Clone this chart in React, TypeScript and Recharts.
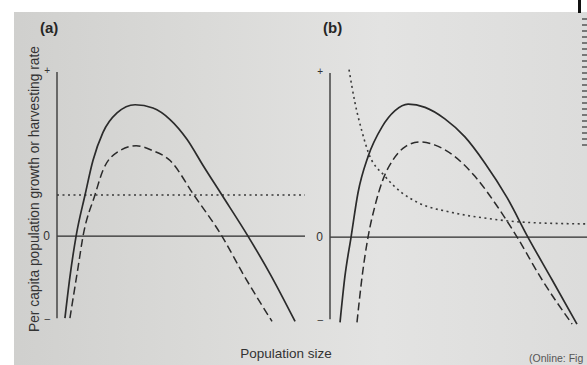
import { ComposedChart, Line, XAxis, YAxis, ReferenceLine } from "recharts";

type Pt = { x: number; y: number };

// y axis only has three marks: "+", "0" and "-"
const yTicks = [-0.5, 0, 1];
const tickText = (v: number) => (v > 0 ? "+" : v < 0 ? "–" : "0");

// (a) constant harvest
const growthA: Pt[] = [
  { x: 0.32, y: -0.5 }, { x: 0.52, y: -0.25 }, { x: 0.77, y: 0 }, { x: 1.13, y: 0.25 },
  { x: 1.45, y: 0.46 }, { x: 1.85, y: 0.63 }, { x: 2.42, y: 0.75 }, { x: 3.15, y: 0.8 },
  { x: 3.87, y: 0.78 }, { x: 4.56, y: 0.71 }, { x: 5.24, y: 0.59 }, { x: 5.89, y: 0.43 },
  { x: 6.65, y: 0.25 }, { x: 7.7, y: 0 }, { x: 8.59, y: -0.23 }, { x: 9.6, y: -0.52 },
];
const netGrowthA: Pt[] = [
  { x: 0.52, y: -0.5 }, { x: 0.85, y: -0.19 }, { x: 1.05, y: 0 }, { x: 1.53, y: 0.25 },
  { x: 1.85, y: 0.4 }, { x: 2.42, y: 0.51 }, { x: 3.19, y: 0.55 }, { x: 3.87, y: 0.52 },
  { x: 4.56, y: 0.46 }, { x: 5.52, y: 0.25 }, { x: 6.65, y: 0 },
  { x: 7.5, y: -0.23 }, { x: 8.67, y: -0.52 },
];
const harvestA: Pt[] = [
  { x: 0, y: 0.25 }, { x: 10, y: 0.25 },
];

// (b) harvest falling with population size
const growthB: Pt[] = [
  { x: 0.39, y: -0.52 }, { x: 0.58, y: -0.24 }, { x: 0.82, y: 0 }, { x: 1.09, y: 0.27 },
  { x: 1.48, y: 0.49 }, { x: 2.02, y: 0.67 }, { x: 2.53, y: 0.77 }, { x: 3.04, y: 0.81 },
  { x: 3.7, y: 0.79 }, { x: 4.47, y: 0.72 }, { x: 5.25, y: 0.61 }, { x: 6.03, y: 0.45 },
  { x: 6.89, y: 0.24 }, { x: 7.7, y: 0 }, { x: 8.64, y: -0.26 }, { x: 9.61, y: -0.53 },
];
const netGrowthB: Pt[] = [
  { x: 1.05, y: -0.52 }, { x: 1.25, y: -0.24 }, { x: 1.48, y: 0 }, { x: 1.75, y: 0.19 },
  { x: 2.06, y: 0.35 }, { x: 2.45, y: 0.47 }, { x: 2.92, y: 0.55 }, { x: 3.5, y: 0.58 },
  { x: 4.09, y: 0.56 }, { x: 4.86, y: 0.49 }, { x: 5.64, y: 0.37 }, { x: 6.54, y: 0.18 },
  { x: 7.28, y: 0 }, { x: 8.25, y: -0.26 }, { x: 9.42, y: -0.53 },
];
const harvestB: Pt[] = [
  { x: 0.74, y: 1.02 }, { x: 0.97, y: 0.82 }, { x: 1.25, y: 0.64 }, { x: 1.48, y: 0.52 },
  { x: 2.14, y: 0.37 }, { x: 2.8, y: 0.27 }, { x: 3.42, y: 0.21 }, { x: 4.75, y: 0.15 },
  { x: 6.3, y: 0.11 }, { x: 7.59, y: 0.09 }, { x: 10, y: 0.08 },
];

const INK = "#2b2b2b";
const FONT = "'Liberation Sans', Arial, sans-serif";

const renderTick = (props: any) => {
  const { x, y, payload } = props;
  const label = tickText(payload.value);
  const size = label === "0" ? 12 : 10;
  return (
    <text x={x} y={y} dy={label === "+" ? 2 : 4} textAnchor="end" fontSize={size} fill="#333" fontFamily={FONT}>
      {label}
    </text>
  );
};

type PanelProps = {
  width: number;
  margin: { top: number; right: number; bottom: number; left: number };
  growth: Pt[];
  netGrowth: Pt[];
  harvest: Pt[];
  harvestType: "linear" | "monotone";
};

function Panel({ width, margin, growth, netGrowth, harvest, harvestType }: PanelProps) {
  return (
    <ComposedChart width={width} height={365} margin={margin}>
      <XAxis dataKey="x" type="number" domain={[0, 10]} hide allowDuplicatedCategory={false} />
      <YAxis
        type="number"
        domain={[-0.56, 1.03]}
        allowDataOverflow
        ticks={yTicks}
        width={20}
        axisLine={false}
        tickLine={false}
        tickSize={5}
        tick={renderTick}
      />
      <ReferenceLine y={0} stroke={INK} strokeWidth={1.3} />
      <ReferenceLine
        segment={[{ x: 0, y: -0.5 }, { x: 0, y: 1 }]}
        stroke="#444"
        strokeWidth={1.5}
      />
      <Line data={harvest} dataKey="y" type={harvestType} stroke="#3a3a3a" strokeWidth={1.6}
        strokeDasharray="2 3.5" dot={false} isAnimationActive={false} />
      <Line data={netGrowth} dataKey="y" type="monotone" stroke={INK} strokeWidth={1.5}
        strokeDasharray="8 4" dot={false} isAnimationActive={false} />
      <Line data={growth} dataKey="y" type="monotone" stroke={INK} strokeWidth={1.7}
        dot={false} isAnimationActive={false} />
    </ComposedChart>
  );
}

export default function App() {
  return (
    <div
      style={{
        position: "fixed",
        left: 0,
        top: 0,
        width: 587,
        height: 365,
        overflow: "hidden",
        background: "linear-gradient(90deg, #cfcfcd 0%, #dadad8 35%, #e3e3e2 65%, #dcdcdb 100%)",
        fontFamily: FONT,
      }}
    >
      {/* white paper edges of the photo */}
      <div style={{ position: "absolute", left: 0, top: 0, width: 587, height: 12, background: "#fff" }} />
      <div style={{ position: "absolute", left: 0, top: 0, width: 14, height: 365, background: "#fff" }} />
      <div style={{ position: "absolute", left: 578, top: 0, width: 3, height: 13, background: "#111" }} />
      <div
        style={{
          position: "absolute", left: 582, top: 18, width: 5, height: 128,
          background: "repeating-linear-gradient(180deg, #777 0 2px, #ddd 2px 6px)",
        }}
      />

      <div style={{ position: "absolute", left: 0, top: 0 }}>
        <Panel width={305} margin={{ top: 67, right: 0, bottom: 37, left: 37 }}
          growth={growthA} netGrowth={netGrowthA} harvest={harvestA} harvestType="linear" />
      </div>
      <div style={{ position: "absolute", left: 305, top: 0 }}>
        <Panel width={282} margin={{ top: 68, right: 0, bottom: 36, left: 5 }}
          growth={growthB} netGrowth={netGrowthB} harvest={harvestB} harvestType="monotone" />
      </div>

      <div style={{ position: "absolute", left: 40, top: 19, fontSize: 15, fontWeight: 600, color: "#262626" }}>(a)</div>
      <div style={{ position: "absolute", left: 323, top: 19, fontSize: 15, fontWeight: 600, color: "#262626" }}>(b)</div>
      <div
        style={{
          position: "absolute", left: 34, top: 189, width: 320, marginLeft: -160, textAlign: "center",
          transform: "translateY(-50%) rotate(-90deg)", fontSize: 13.8, color: "#333", whiteSpace: "nowrap",
        }}
      >
        Per capita population growth or harvesting rate
      </div>
      <div style={{ position: "absolute", left: 236, top: 346, width: 100, textAlign: "center", fontSize: 13.5, color: "#333", whiteSpace: "nowrap" }}>
        Population size
      </div>
      <div style={{ position: "absolute", left: 529, top: 352, fontSize: 10.5, color: "#555", whiteSpace: "nowrap" }}>
        (Online: Fig
      </div>
    </div>
  );
}
